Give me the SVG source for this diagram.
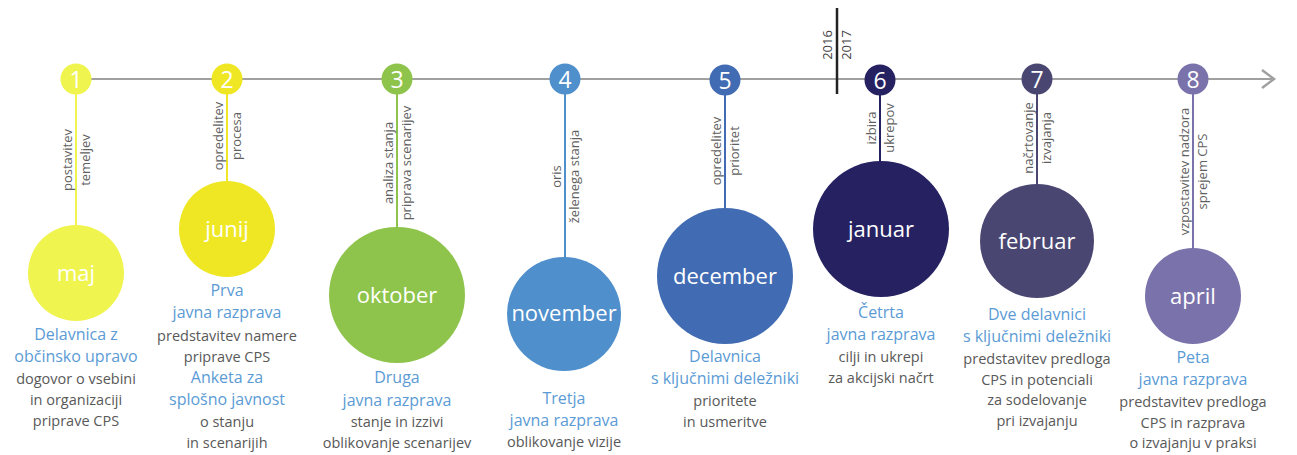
<svg xmlns="http://www.w3.org/2000/svg" width="1297" height="455" viewBox="0 0 1297 455">
<style>
.num{font-family:"Open Sans","Liberation Sans",sans-serif;font-size:23px;fill:#fff;text-anchor:middle}
.mon{font-family:"Open Sans","Liberation Sans",sans-serif;font-size:22px;fill:#fff;text-anchor:middle}
.rot{font-family:"Open Sans","Liberation Sans",sans-serif;font-size:13px;fill:#5f5f5f;text-anchor:middle}
.ttl{font-family:"Open Sans","Liberation Sans",sans-serif;font-size:16px;fill:#5b9bd5;text-anchor:middle}
.dsc{font-family:"Open Sans","Liberation Sans",sans-serif;font-size:14.5px;fill:#595959;text-anchor:middle}
.yr{font-family:"Open Sans","Liberation Sans",sans-serif;font-size:13px;fill:#444;text-anchor:middle}
.stem{stroke-width:2;fill:none}
</style>
<g id="connectors">
<line x1="91" y1="79" x2="1274" y2="79" stroke="#a0a0a0" stroke-width="2"/>
<polyline points="1262,70 1274,79 1262,88" fill="none" stroke="#a0a0a0" stroke-width="2.5"/>
<line class="stem" x1="76" y1="94" x2="76" y2="226" stroke="#f0f44e"/>
<line class="stem" x1="227" y1="94" x2="227" y2="182" stroke="#efe724"/>
<line class="stem" x1="397" y1="94" x2="397" y2="228" stroke="#8ec44b"/>
<line class="stem" x1="565" y1="94" x2="565" y2="258" stroke="#4f8fcc"/>
<line class="stem" x1="725" y1="94" x2="725" y2="209" stroke="#416bb2"/>
<line class="stem" x1="880" y1="94" x2="880" y2="162" stroke="#262262"/>
<line class="stem" x1="1037" y1="94" x2="1037" y2="185" stroke="#4a4672"/>
<line class="stem" x1="1193" y1="94" x2="1193" y2="249" stroke="#7a72aa"/>
</g>
<g id="year-divider">
<line x1="837" y1="8" x2="837" y2="94" stroke="#222" stroke-width="2.5"/>
<text class="yr" transform="translate(832,45) rotate(-90)">2016</text>
<text class="yr" transform="translate(851,45) rotate(-90)">2017</text>
</g>
<g id="node1">
<circle cx="76" cy="79" r="15.5" fill="#f0f44e"/>
<text class="num" x="76" y="88">1</text>
<text class="rot" transform="translate(72,160) rotate(-90)">postavitev</text>
<text class="rot" transform="translate(90,160) rotate(-90)">temeljev</text>
<circle cx="76" cy="273" r="48" fill="#f0f44e"/>
<text class="mon" x="76" y="281">maj</text>
<text class="ttl" x="76" y="340">Delavnica z</text>
<text class="ttl" x="76" y="362">občinsko upravo</text>
<text class="dsc" x="76" y="383.5">dogovor o vsebini</text>
<text class="dsc" x="76" y="405">in organizaciji</text>
<text class="dsc" x="76" y="426">priprave CPS</text>
</g>
<g id="node2">
<circle cx="227" cy="79" r="15.5" fill="#efe724"/>
<text class="num" x="227" y="88">2</text>
<text class="rot" transform="translate(223,136) rotate(-90)">opredelitev</text>
<text class="rot" transform="translate(241,136) rotate(-90)">procesa</text>
<circle cx="227" cy="229" r="48" fill="#efe724"/>
<text class="mon" x="227" y="237">junij</text>
<text class="ttl" x="227" y="296">Prva</text>
<text class="ttl" x="227" y="318">javna razprava</text>
<text class="dsc" x="227" y="340.5">predstavitev namere</text>
<text class="dsc" x="227" y="361.5">priprave CPS</text>
<text class="ttl" x="227" y="383">Anketa za</text>
<text class="ttl" x="227" y="405">splošno javnost</text>
<text class="dsc" x="227" y="426.5">o stanju</text>
<text class="dsc" x="227" y="447.5">in scenarijih</text>
</g>
<g id="node3">
<circle cx="397" cy="79" r="15.5" fill="#8ec44b"/>
<text class="num" x="397" y="88">3</text>
<text class="rot" transform="translate(393,163) rotate(-90)">analiza stanja</text>
<text class="rot" transform="translate(411,163) rotate(-90)">priprava scenarijev</text>
<circle cx="397" cy="295" r="68" fill="#8ec44b"/>
<text class="mon" x="397" y="303">oktober</text>
<text class="ttl" x="397" y="383">Druga</text>
<text class="ttl" x="397" y="405.5">javna razprava</text>
<text class="dsc" x="397" y="427">stanje in izzivi</text>
<text class="dsc" x="397" y="448">oblikovanje scenarijev</text>
</g>
<g id="node4">
<circle cx="565" cy="79" r="15.5" fill="#4f8fcc"/>
<text class="num" x="565" y="88">4</text>
<text class="rot" transform="translate(561,176.5) rotate(-90)">oris</text>
<text class="rot" transform="translate(579,176.5) rotate(-90)">želenega stanja</text>
<circle cx="564" cy="314" r="57" fill="#4f8fcc"/>
<text class="mon" x="564" y="321">november</text>
<text class="ttl" x="564" y="404">Tretja</text>
<text class="ttl" x="564" y="426">javna razprava</text>
<text class="dsc" x="564" y="447">oblikovanje vizije</text>
</g>
<g id="node5">
<circle cx="725" cy="80" r="15.5" fill="#416bb2"/>
<text class="num" x="725" y="89">5</text>
<text class="rot" transform="translate(721,151) rotate(-90)">opredelitev</text>
<text class="rot" transform="translate(739,151) rotate(-90)">prioritet</text>
<circle cx="725" cy="276" r="68" fill="#416bb2"/>
<text class="mon" x="725" y="284">december</text>
<text class="ttl" x="725" y="362">Delavnica</text>
<text class="ttl" x="725" y="384">s ključnimi deležniki</text>
<text class="dsc" x="725" y="406">prioritete</text>
<text class="dsc" x="725" y="427">in usmeritve</text>
</g>
<g id="node6">
<circle cx="880" cy="80" r="15.5" fill="#262262"/>
<text class="num" x="880" y="89">6</text>
<text class="rot" transform="translate(876,128) rotate(-90)">izbira</text>
<text class="rot" transform="translate(894,128) rotate(-90)">ukrepov</text>
<circle cx="881" cy="229" r="68" fill="#262262"/>
<text class="mon" x="881" y="237">januar</text>
<text class="ttl" x="881" y="318">Četrta</text>
<text class="ttl" x="881" y="340">javna razprava</text>
<text class="dsc" x="881" y="361.5">cilji in ukrepi</text>
<text class="dsc" x="881" y="382.5">za akcijski načrt</text>
</g>
<g id="node7">
<circle cx="1037" cy="79" r="15.5" fill="#4a4672"/>
<text class="num" x="1037" y="88">7</text>
<text class="rot" transform="translate(1033,138) rotate(-90)">načrtovanje</text>
<text class="rot" transform="translate(1051,138) rotate(-90)">izvajanja</text>
<circle cx="1037" cy="241" r="57" fill="#4a4672"/>
<text class="mon" x="1037" y="249">februar</text>
<text class="ttl" x="1037" y="319.5">Dve delavnici</text>
<text class="ttl" x="1037" y="341.5">s ključnimi deležniki</text>
<text class="dsc" x="1037" y="363.5">predstavitev predloga</text>
<text class="dsc" x="1037" y="384.5">CPS in potenciali</text>
<text class="dsc" x="1037" y="405">za sodelovanje</text>
<text class="dsc" x="1037" y="425.5">pri izvajanju</text>
</g>
<g id="node8">
<circle cx="1193" cy="79" r="15.5" fill="#7a72aa"/>
<text class="num" x="1193" y="88">8</text>
<text class="rot" transform="translate(1189,171.5) rotate(-90)">vzpostavitev nadzora</text>
<text class="rot" transform="translate(1207,171.5) rotate(-90)">sprejem CPS</text>
<circle cx="1193" cy="296" r="48" fill="#7a72aa"/>
<text class="mon" x="1193" y="304">april</text>
<text class="ttl" x="1193" y="363">Peta</text>
<text class="ttl" x="1193" y="385">javna razprava</text>
<text class="dsc" x="1193" y="406.5">predstavitev predloga</text>
<text class="dsc" x="1193" y="427.5">CPS in razprava</text>
<text class="dsc" x="1193" y="448">o izvajanju v praksi</text>
</g>
</svg>
